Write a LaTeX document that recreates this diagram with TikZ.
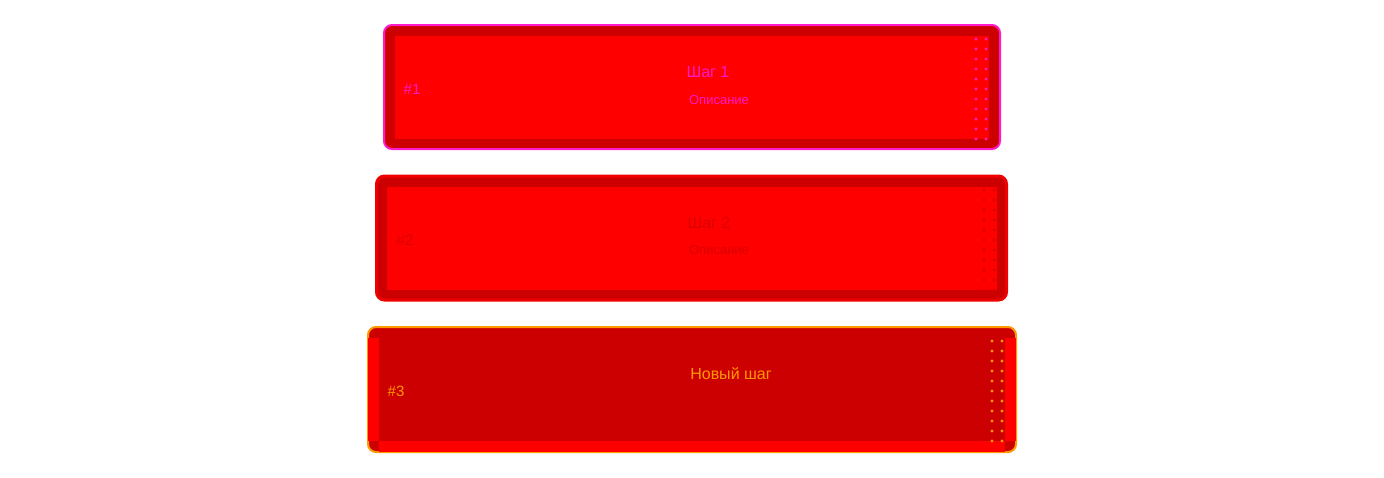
\documentclass[tikz,border=0pt]{standalone}
\usepackage{fontspec}
\setmainfont{Liberation Sans}
\definecolor{cardred}{HTML}{FF0000}
\definecolor{carddark}{HTML}{CC0000}
\definecolor{cardpink}{HTML}{FF1ACC}
\definecolor{cardedge}{HTML}{EE0000}
\definecolor{cardorange}{HTML}{FF9900}
\tikzset{
  stepcard/.style={rounded corners=8pt, fill=carddark, inner sep=0pt},
  steptitle/.style={inner sep=0pt, font=\fontsize{16}{16}\selectfont},
  stepdesc/.style={inner sep=0pt, font=\fontsize{13}{13}\selectfont},
  stepnum/.style={inner sep=0pt, font=\fontsize{15}{15}\selectfont}
}
\begin{document}
\begin{tikzpicture}[x=1pt,y=-1pt]
\useasboundingbox (0,0) rectangle (1384,477);
% step 1
\node [stepcard, draw=cardpink, line width=2pt, minimum width=616pt, minimum height=124pt] (card1) at (692,87) {};
\fill [cardred] (395,36) rectangle (989,139);
\foreach \y in {39,49,...,139} {
  \fill [cardpink] (976,\y) circle (1.7) (986,\y) circle (1.7);
}
\node [steptitle, text=cardpink] (title1) at (708,72) {Шаг 1};
\node [stepdesc, text=cardpink] (desc1) at (719,100) {Описание};
\node [stepnum, text=cardpink] (num1) at (412,89) {\#1};
% step 2
\node [stepcard, draw=cardedge, line width=3pt, minimum width=630pt, minimum height=124pt] (card2) at (691.5,238) {};
\fill [cardred] (387,187) rectangle (997,290);
\foreach \y in {190,200,...,290} {
  \fill [carddark!70!cardred] (984,\y) circle (1.7) (994,\y) circle (1.7);
}
\node [steptitle, text=carddark!70!cardred] (title2) at (709,223) {Шаг 2};
\node [stepdesc, text=carddark!70!cardred] (desc2) at (719,250) {Описание};
\node [stepnum, text=carddark!70!cardred] (num2) at (405,240) {\#2};
% step 3
\node [stepcard, draw=cardorange, line width=2pt, minimum width=648pt, minimum height=125pt] (card3) at (692,389.5) {};
\fill [cardred] (368,338) rectangle (379,441);
\fill [cardred] (1005,338) rectangle (1016,441);
\fill [cardred] (379,441) rectangle (1005,452);
\foreach \y in {341,351,...,441} {
  \fill [cardorange] (992,\y) circle (1.7) (1002,\y) circle (1.7);
}
\node [steptitle, text=cardorange] (title3) at (731,374) {Новый шаг};
\node [stepnum, text=cardorange] (num3) at (396,391) {\#3};
\end{tikzpicture}
\end{document}
